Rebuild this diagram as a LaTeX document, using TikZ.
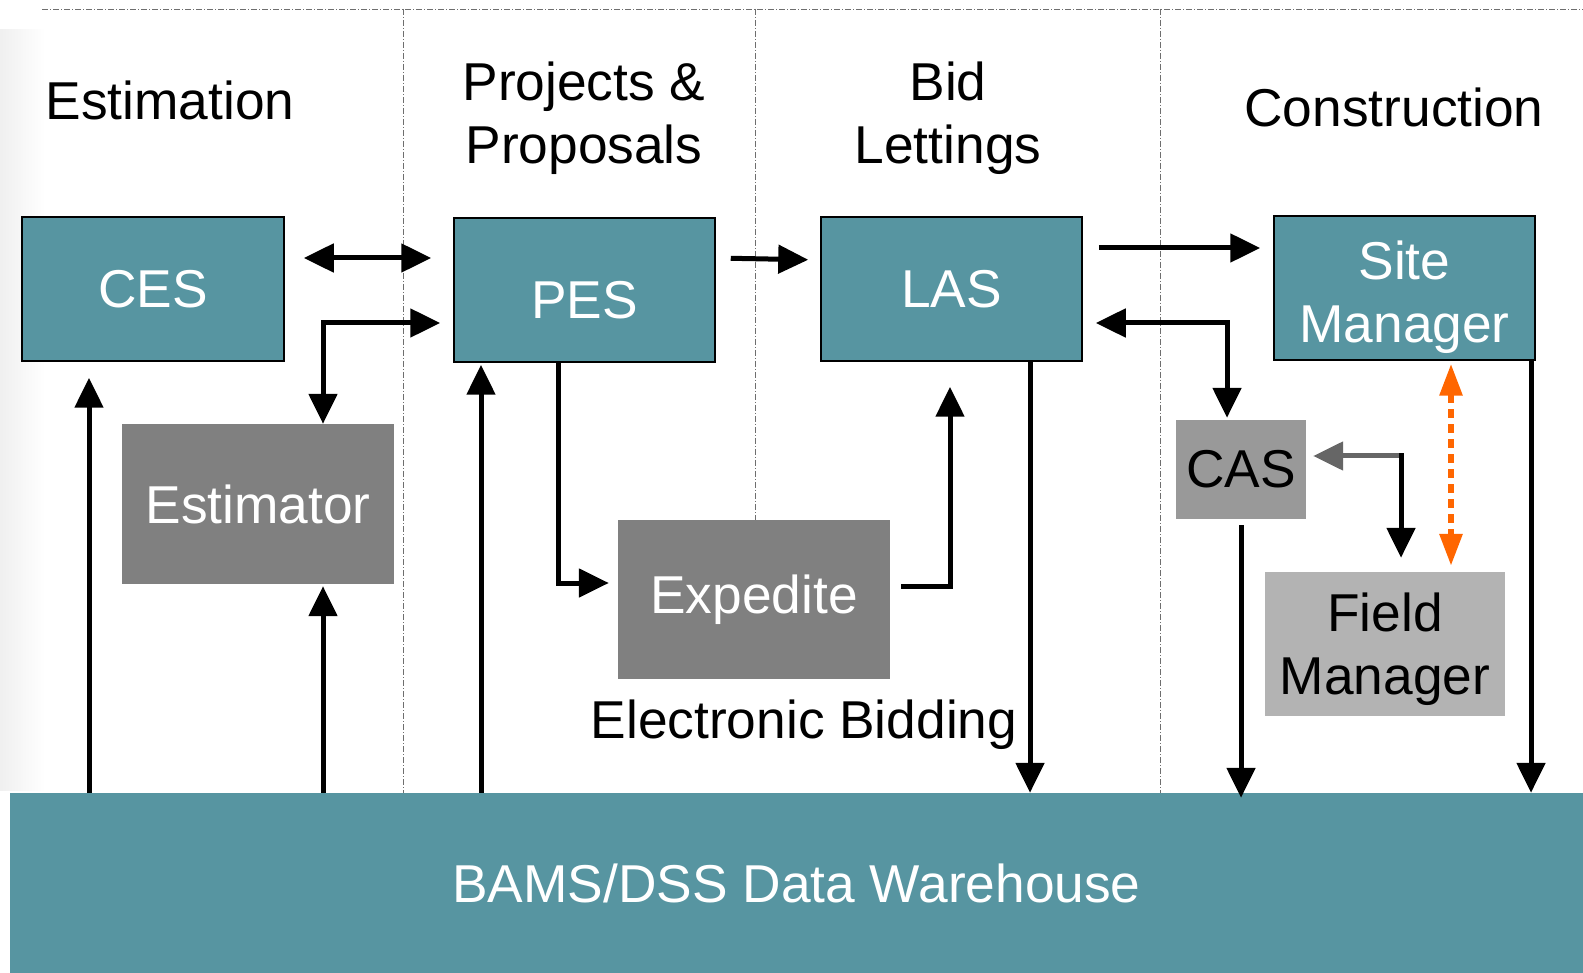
\documentclass[tikz,border=0pt]{standalone}
\usepackage{fontspec}
\setmainfont{Liberation Sans}
\usetikzlibrary{arrows.meta}
\definecolor{tealc}{RGB}{87,149,161}
\definecolor{estc}{RGB}{128,128,128}
\definecolor{casc}{RGB}{153,153,153}
\definecolor{fmc}{RGB}{179,179,179}
\definecolor{orangec}{RGB}{255,102,0}
\definecolor{sepc}{RGB}{110,110,110}
\tikzset{
  bigfont/.style={font=\fontsize{53.3}{63}\selectfont},
  tealbox/.style={draw=black, line width=1.5pt, fill=tealc, text=white, inner sep=0pt, align=center, bigfont},
  graybox/.style={fill=#1, inner sep=0pt, align=center, bigfont},
  title/.style={align=center, bigfont, inner sep=0pt},
  arr/.style={line width=5pt, -{Triangle[length=30pt,width=28pt]}},
  dbl/.style={line width=5pt, {Triangle[length=30pt,width=28pt]}-{Triangle[length=30pt,width=28pt]}},
  garr/.style={line width=5pt, draw=black!60, -{Triangle[length=30pt,width=28pt]}},
  orng/.style={draw=orangec, line width=6pt, dash pattern=on 9pt off 6pt, {Triangle[length=32pt,width=22pt]}-{Triangle[length=32pt,width=22pt]}},
  sepline/.style={draw=sepc, line width=0.8pt, dash pattern=on 6pt off 2pt on 1pt off 2pt},
}
\begin{document}
\begin{tikzpicture}[x=1pt,y=-1pt]
\useasboundingbox (0,0) rectangle (1583,973);
\fill[white] (0,0) rectangle (1583,973);
\shade[left color=black!6, right color=white] (0,30) rectangle (45,790);

% separators
\draw[sepline] (42,9) -- (1583,9);
\draw[sepline] (403,9) -- (403,793);
\draw[sepline] (1160,9) -- (1160,793);

% titles
\node[title] (t1) at (170,100) {Estimation};
\node[title] (t2) at (584,118) {Projects \&\\Proposals};
\node[title] (t3) at (948,118) {Bid\\Lettings};
\node[title] (t4) at (1394,107) {Construction};

% boxes
\node[tealbox, minimum width=262pt, minimum height=144pt] (ces) at (153,289) {CES};
\node[tealbox, minimum width=261pt, minimum height=144pt, text height=57pt] (pes) at (584.5,290) {PES};
\node[tealbox, minimum width=261pt, minimum height=144pt] (las) at (951.5,289) {LAS};
\node[tealbox, minimum width=261pt, minimum height=144pt,
      label={[text=white, align=center, bigfont, inner sep=0pt, yshift=-9pt]center:{Site\\Manager}}] (site) at (1404.5,288) {};
\node[graybox=estc, text=white, minimum width=272pt, minimum height=160pt] (est) at (258,504) {Estimator};
\draw[sepline] (755,9) -- (755,520);
\node[graybox=estc, text=white, minimum width=272pt, minimum height=159pt] (exp) at (754,599.5) {Expedite};
\node[graybox=casc, text=black, minimum width=130pt, minimum height=99pt] (cas) at (1241,469.5) {CAS};
\node[graybox=fmc, minimum width=240pt, minimum height=144pt,
      label={[text=black, align=center, bigfont, inner sep=0pt, yshift=-5pt]center:{Field\\Manager}}] (fm) at (1385,644) {};
\node[title] (eb) at (804,725) {Electronic Bidding};
\node[fill=tealc, text=white, inner sep=0pt, bigfont, minimum width=1573pt, minimum height=180pt] (wh) at (796.5,883) {BAMS/DSS Data Warehouse};

% connectors
\draw[dbl, shorten <=19pt, shorten >=22pt] (ces.east |- 0,258) -- (pes.west |- 0,258);
\draw[dbl, shorten >=13pt] (est.north -| 323,0) |- (pes.west |- 0,323);
\draw[arr, shorten <=15pt, shorten >=12pt] (pes.east |- 0,258) -- (las.west |- 0,260);
\draw[arr, shorten <=16pt, shorten >=13pt] (las.east |- 0,248) -- (site.west |- 0,248);
\draw[dbl, shorten <=13pt, shorten >=2pt] (las.east |- 0,323) -| (cas.north -| 1227,0);
\draw[orng, shorten <=3pt, shorten >=6pt] (site.south -| 1451,0) -- (fm.north -| 1451,0);
\coordinate (k) at (1401,456);
\draw[garr, shorten >=7pt] (k) -- (cas.east |- k);
\draw[arr, shorten >=14pt] ([yshift=2.5pt]k) -- (fm.north -| k);
\draw[arr, shorten <=6pt, shorten >=-5pt] (cas.south) -- (wh.north -| cas.south);
\draw[arr] (site.south -| 1531,0) -- (wh.north -| 1531,0);
\draw[arr] (las.south -| 1030,0) -- (wh.north -| 1030,0);
\draw[arr, shorten <=11pt, shorten >=25pt] (exp.east |- 0,586) -| (las.south -| 950,0);
\draw[arr, shorten >=9pt] (pes.south -| 558,0) |- (exp.west |- 0,583);
\draw[arr, shorten >=2pt] (wh.north -| 481,0) -- (pes.south -| 481,0);
\draw[arr, shorten >=16pt] (wh.north -| 89,0) -- (ces.south -| 89,0);
\draw[arr, shorten >=2pt] (wh.north -| 323,0) -- (est.south -| 323,0);
\end{tikzpicture}
\end{document}
